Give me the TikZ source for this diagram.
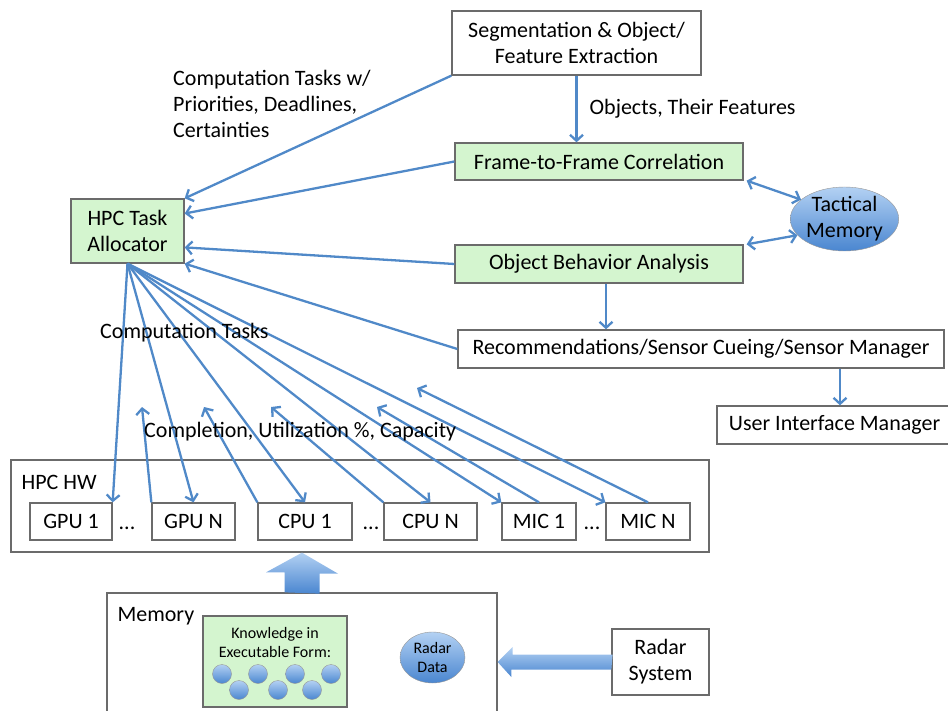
\documentclass[tikz,border=0pt]{standalone}
\usepackage{fontspec}
\setmainfont{Carlito}
\usetikzlibrary{arrows.meta,shapes.geometric,positioning}

\definecolor{linkblue}{HTML}{5089C8}
\definecolor{boxgreen}{HTML}{D4F5CF}
\definecolor{boxline}{HTML}{6B6B6B}
\definecolor{balltop}{HTML}{B3D1F3}
\definecolor{ballbot}{HTML}{4A86D0}

\begin{document}
\begin{tikzpicture}[
    x=1pt, y=-1pt,
    >={Straight Barb[length=6pt,width=13pt]},
    font=\fontsize{22}{26}\selectfont,
    box/.style={
      draw=boxline,
      line width=1.3pt,
      inner sep=0pt,
      align=center
    },
    greenbox/.style={
      box,
      fill=boxgreen
    },
    bubble/.style={
      ellipse,
      draw=boxline!70,
      inner sep=0pt,
      align=center,
      top color=balltop,
      bottom color=ballbot
    },
    flow/.style={
      draw=linkblue,
      line width=2.3pt
    },
    fat/.style={
      top color=balltop,
      bottom color=ballbot
    }
  ]

    \useasboundingbox (0, 0) rectangle (948, 711);

    \node[box, minimum width=249pt, minimum height=64pt] (seg) at (576.5, 43) {Segmentation \& Object/\\Feature Extraction};
    \node[greenbox, minimum width=288pt, minimum height=37pt] (ftf) at (599, 161.5) {Frame-to-Frame Correlation};
    \node[greenbox, minimum width=288pt, minimum height=38pt] (oba) at (599, 264) {Object Behavior Analysis};
    \node[greenbox, minimum width=113pt, minimum height=64pt] (hpc) at (127.5, 231) {HPC Task\\Allocator};
    \node[bubble, minimum width=105pt, minimum height=64pt] (tac) at (844.5, 219) {Tactical\\Memory};
    \node[box, minimum width=486pt, minimum height=38pt] (rec) at (701, 349) {Recommendations/Sensor Cueing/Sensor Manager};
    \node[box, minimum width=235pt, minimum height=38pt] (ui) at (834.5, 425) {User Interface Manager};

    % hardware
    \node[box, minimum width=698pt, minimum height=92pt] (hw) at (360, 506) {};
    \node[anchor=north west, inner sep=0pt] (hwname) at ([xshift=11pt,yshift=-16pt]hw.north west) {HPC HW};

    \node[box, minimum width=82pt, minimum height=37pt] (gpu1) at (71, 521.5) {GPU 1};
    \node[box, minimum width=83pt, minimum height=37pt] (gpuN) at (193.5, 521.5) {GPU N};
    \node[box, minimum width=94pt, minimum height=37pt] (cpu1) at (305, 521.5) {CPU 1};
    \node[box, minimum width=93pt, minimum height=37pt] (cpuN) at (430.5, 521.5) {CPU N};
    \node[box, minimum width=74pt, minimum height=37pt] (mic1) at (539, 521.5) {MIC 1};
    \node[box, minimum width=84pt, minimum height=37pt] (micN) at (648, 521.5) {MIC N};

    \node (dots1) at (127, 528) {...};
    \node (dots2) at (371, 528) {...};
    \node (dots3) at (592, 528) {...};

    % memory
    \node[box, minimum width=390pt, minimum height=124pt] (mem) at (302, 655) {};
    \node[anchor=west, inner sep=0pt] (memname) at ([xshift=11pt,yshift=-24pt]mem.north west) {Memory};
    \node[greenbox, minimum width=144pt, minimum height=91pt] (know) at (275, 661.5) {};
    \node[font=\fontsize{16}{19}\selectfont, align=center, inner sep=0pt] (knowtxt) at ([yshift=-27.5pt]know.north) {Knowledge in\\Executable Form:};
    \foreach \x/\y [count=\i] in {222/674, 258/674, 295/674, 331/674, 239/690, 278/690, 312/690}
      \node[bubble, minimum size=19pt] (ball\i) at (\x, \y) {};
    \node[bubble, minimum width=65pt, minimum height=51pt, font=\fontsize{16}{19}\selectfont] (rdata) at (432.5, 657.5) {Radar\\Data};

    \node[box, minimum width=97pt, minimum height=66pt] (rsys) at (660.5, 662) {Radar\\System};

    % wide arrows
    \shade[fat] ([xshift=-17.5pt]mem.north) -- ++(0, -20) -- ++(-18.5, 0) -- (mem.north |- hw.south)
      -- ++(36, 21) -- ++(-18.5, 0) -- ++(0, 20) -- cycle;
    \shade[fat] ([yshift=-7.5pt]rsys.west) -- ++(-100, 0) -- ++(0, 7.5) -- (mem.east |- rsys.west)
      -- ++(15, -15) -- ++(0, 7.5) -- ++(100, 0) -- cycle;

    % into the allocator
    \draw[flow, ->] (seg.south west) -- (hpc.north east);
    \draw[flow, ->] (ftf.west) -- (hpc.17);
    \draw[flow, ->] (oba.west) -- (hpc.-16);
    \draw[flow, ->] (rec.west) -- (hpc.south east);

    \draw[flow, ->] (seg.south) -- (seg.south |- ftf.north) node[midway, right=12pt, inner sep=0pt] {Objects, Their Features};
    \draw[flow, <->] ([xshift=3pt]ftf.south east) -- (tac.156);
    \draw[flow, <->] ([xshift=3pt]oba.north east) -- (tac.199);
    \draw[flow, ->] ([xshift=7pt]oba.south) -- ([xshift=7pt]oba.south |- rec.north);
    \draw[flow, ->] ([xshift=5.5pt]ui.north |- rec.south) -- ([xshift=5.5pt]ui.north);

    % tasks out, status back
    \foreach \u/\a in {gpu1/north east, gpuN/north, cpu1/north, cpuN/north, mic1/north west, micN/north west}
      \draw[flow, ->] (hpc.south) -- (\u.\a);

    \coordinate (r1) at (142, 407);
    \coordinate (r2) at (204, 407);
    \coordinate (r3) at (271, 407);
    \coordinate (r4) at (377, 407);
    \coordinate (r5) at (417, 388);

    \draw[flow, ->] (gpuN.north west) -- (r1);
    \draw[flow, ->] (cpu1.north west) -- (r2);
    \draw[flow, ->] (cpuN.north west) -- (r3);
    \draw[flow, ->] (mic1.north) -- (r4);
    \draw[flow, ->] (micN.north) -- (r5);

    \node[anchor=north west, align=left, inner sep=0pt] (tasklbl) at (173, 70) {Computation Tasks w/\\Priorities, Deadlines,\\Certainties};
    \node[anchor=west, inner sep=0pt] (outlbl) at (100, 333) {Computation Tasks};
    \node[anchor=west, inner sep=0pt] (backlbl) at (144, 432) {Completion, Utilization \%, Capacity};

  \end{tikzpicture}
\end{document}
